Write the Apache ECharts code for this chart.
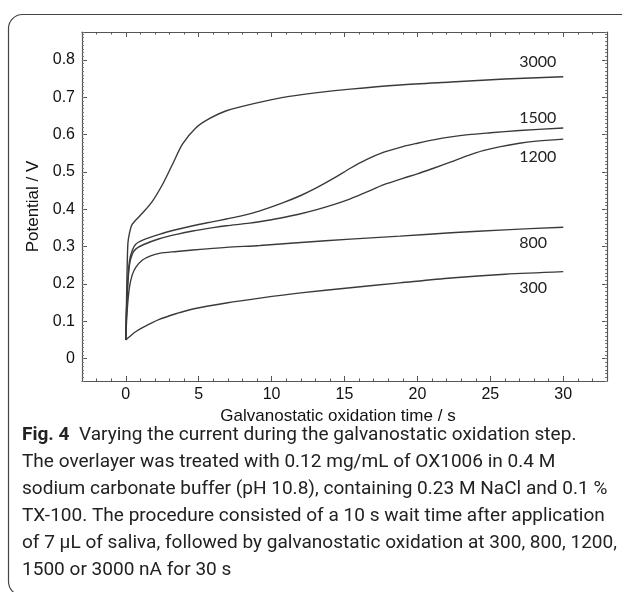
<!DOCTYPE html>
<html><head><meta charset="utf-8">
<script src="https://cdn.jsdelivr.net/npm/echarts@6/dist/echarts.min.js"></script>
<style>html,body{margin:0;padding:0;background:#fff}#c{width:622px;height:592px}</style>
</head><body><div id="c"></div>
<script>
// ---- data (time in s, potential in V) ----
const currents = ['300', '800', '1200', '1500', '3000'];
const curve300 = [[0,0.05],[0.3,0.06],[0.6,0.07],[1.15,0.083],[2.3,0.105],[3.5,0.121],[4.6,0.133],[6.9,0.149],[9.2,0.162],[12,0.176],[15.4,0.19],[18.8,0.203],[22.3,0.216],[26,0.226],[30,0.233]];
const curve800 = [[0,0.05],[0.1,0.13],[0.25,0.19],[0.45,0.225],[0.7,0.245],[1.15,0.264],[1.7,0.275],[2.3,0.282],[3.5,0.287],[4.6,0.291],[6.9,0.298],[9.2,0.303],[12,0.311],[15.4,0.32],[18.8,0.328],[22.3,0.337],[26,0.345],[30,0.352]];
const curve1200 = [[0,0.05],[0.1,0.17],[0.25,0.25],[0.45,0.28],[0.7,0.294],[1.2,0.305],[2.3,0.321],[3.5,0.333],[4.6,0.342],[6,0.351],[6.9,0.356],[8.5,0.363],[10,0.372],[10.8,0.378],[12,0.388],[13.1,0.399],[14.3,0.413],[15.4,0.428],[16.5,0.446],[17.7,0.466],[19,0.483],[20,0.495],[21.1,0.51],[22.3,0.527],[23.4,0.543],[24.5,0.557],[25.7,0.568],[27,0.577],[28,0.582],[30,0.588]];
const curve1500 = [[0,0.05],[0.1,0.18],[0.25,0.26],[0.45,0.29],[0.7,0.307],[1.2,0.318],[2.3,0.333],[3.5,0.346],[4.6,0.356],[6,0.367],[6.9,0.374],[8,0.383],[9.2,0.396],[10.8,0.418],[12,0.437],[13.1,0.458],[14.3,0.484],[15.4,0.51],[16.5,0.533],[17.7,0.553],[19,0.568],[20,0.577],[21.1,0.586],[22.3,0.594],[23.5,0.6],[25,0.605],[27,0.611],[30,0.618]];
const curve3000 = [[0,0.05],[0.05,0.15],[0.1,0.25],[0.15,0.31],[0.25,0.335],[0.45,0.36],[1.15,0.39],[1.8,0.42],[2.5,0.465],[3.2,0.52],[3.9,0.575],[4.8,0.618],[5.7,0.642],[6.9,0.664],[9,0.685],[10.8,0.7],[13,0.712],[15.4,0.722],[18.8,0.733],[22.3,0.741],[26,0.749],[30,0.755]];
const xTickValues = [0, 5, 10, 15, 20, 25, 30];
const yTickValues = [0, 0.1, 0.2, 0.3, 0.4, 0.5, 0.6, 0.7, 0.8];
const xTitle = 'Galvanostatic oxidation time / s';
const yTitle = 'Potential / V';
const captionBold = 'Fig. 4';
const captionLines = [
  '  Varying the current during the galvanostatic oxidation step.',
  'The overlayer was treated with 0.12 mg/mL of OX1006 in 0.4 M',
  'sodium carbonate buffer (pH 10.8), containing 0.23 M NaCl and 0.1 %',
  'TX-100. The procedure consisted of a 10 s wait time after application',
  'of 7 µL of saliva, followed by galvanostatic oxidation at 300, 800, 1200,',
  '1500 or 3000 nA for 30 s'
];
const curves = [curve300, curve800, curve1200, curve1500, curve3000];

// ---- styling ----
const labelOffsetY = { '300': 16.7, '800': 16, '1200': 17.7, '1500': -10.3, '3000': -15.3 };
const axisColor = '#555';
const tickFont = 'Liberation Sans';
const capFont = 'Roboto';
const capSize = 19;

// caption horizontal scale so full lines span the text block width
const cv = document.createElement('canvas').getContext('2d');
function lineWidth(i) {
  let w = 0;
  if (i === 0) { cv.font = 'bold ' + capSize + 'px ' + capFont; w += cv.measureText(captionBold).width; }
  cv.font = capSize + 'px ' + capFont;
  w += cv.measureText(captionLines[i]).width;
  return w;
}
const fullLines = [0, 2, 3, 4];
let capScale = 0;
fullLines.forEach(i => { capScale += 579 / lineWidth(i); });
capScale /= fullLines.length;

const chart = echarts.init(document.getElementById('c'), null, { renderer: 'canvas' });

function majorX(pos, showLabel) {
  return {
    type: 'value', position: pos, min: -3, max: 33, gridIndex: 0,
    axisLine: { show: true, onZero: false, lineStyle: { color: axisColor, width: 1.2 } },
    axisTick: { show: true, inside: true, length: 5, customValues: xTickValues, lineStyle: { color: axisColor, width: 1 } },
    axisLabel: { show: showLabel, customValues: xTickValues, margin: 6, fontSize: 16, color: '#111', fontFamily: tickFont },
    splitLine: { show: false },
    name: showLabel ? xTitle : '', nameLocation: 'middle', nameGap: 19,
    nameTextStyle: { fontSize: 17, color: '#111', fontFamily: tickFont, padding: [0, 13, 0, 0] }
  };
}
function minorX(pos) {
  return {
    type: 'value', position: pos, min: -3, max: 33, interval: 1, gridIndex: 0,
    axisLine: { show: false, onZero: false },
    axisTick: { show: true, inside: true, length: 2.5, lineStyle: { color: axisColor, width: 1 } },
    axisLabel: { show: false }, splitLine: { show: false }
  };
}
function majorY(pos, showLabel) {
  return {
    type: 'value', position: pos, min: -0.06, max: 0.875, gridIndex: 0,
    axisLine: { show: true, onZero: false, lineStyle: { color: axisColor, width: 1.2 } },
    axisTick: { show: true, inside: true, length: 5, customValues: yTickValues, lineStyle: { color: axisColor, width: 1 } },
    axisLabel: { show: showLabel, customValues: yTickValues, margin: 7, fontSize: 16, color: '#111', fontFamily: tickFont,
      formatter: v => (v === 0 ? '0' : v.toFixed(1)) },
    splitLine: { show: false },
    name: showLabel ? yTitle : '', nameLocation: 'middle', nameGap: 25, nameRotate: 90,
    nameTextStyle: { fontSize: 17, color: '#111', fontFamily: tickFont }
  };
}
function minorY(pos) {
  return {
    type: 'value', position: pos, min: -0.06, max: 0.875, interval: 0.01, gridIndex: 0,
    axisLine: { show: false, onZero: false },
    axisTick: { show: true, inside: true, length: 2, lineStyle: { color: '#777', width: 1 } },
    axisLabel: { show: false }, splitLine: { show: false }
  };
}

const graphics = [{
  type: 'rect', z: 10, silent: true,
  shape: { x: 8.5, y: 14.5, width: 700, height: 581, r: 14 },
  style: { fill: 'none', stroke: '#444', lineWidth: 1.2 }
}];
captionLines.forEach((line, i) => {
  graphics.push({
    type: 'text', x: 22, y: 435 + i * 27, scaleX: capScale, originX: 0, originY: 0, silent: true,
    style: {
      text: i === 0 ? '{b|' + captionBold + '}' + line : line,
      font: capSize + 'px ' + capFont, fill: '#222', verticalAlign: 'middle', align: 'left',
      rich: { b: { fontWeight: 'bold', fontSize: capSize, fontFamily: capFont, fill: '#222' } }
    }
  });
});

chart.setOption({
  animation: false,
  backgroundColor: '#fff',
  grid: { left: 82, right: 15, top: 32, bottom: 211, containLabel: false },
  xAxis: [majorX('bottom', true), minorX('bottom'), majorX('top', false), minorX('top')],
  yAxis: [majorY('left', true), minorY('left'), majorY('right', false), minorY('right')],
  series: curves.map((d, i) => ({
    type: 'line', name: currents[i], data: d, xAxisIndex: 0, yAxisIndex: 0,
    showSymbol: false, smooth: 0.3,
    lineStyle: { color: '#3a3a3a', width: 1.4 },
    endLabel: { show: true, formatter: currents[i], distance: 0, offset: [-44, labelOffsetY[currents[i]]],
      fontFamily: 'Lato', fontSize: 16, color: '#222', align: 'left', verticalAlign: 'middle' }
  })),
  graphic: graphics
});
</script></body></html>
